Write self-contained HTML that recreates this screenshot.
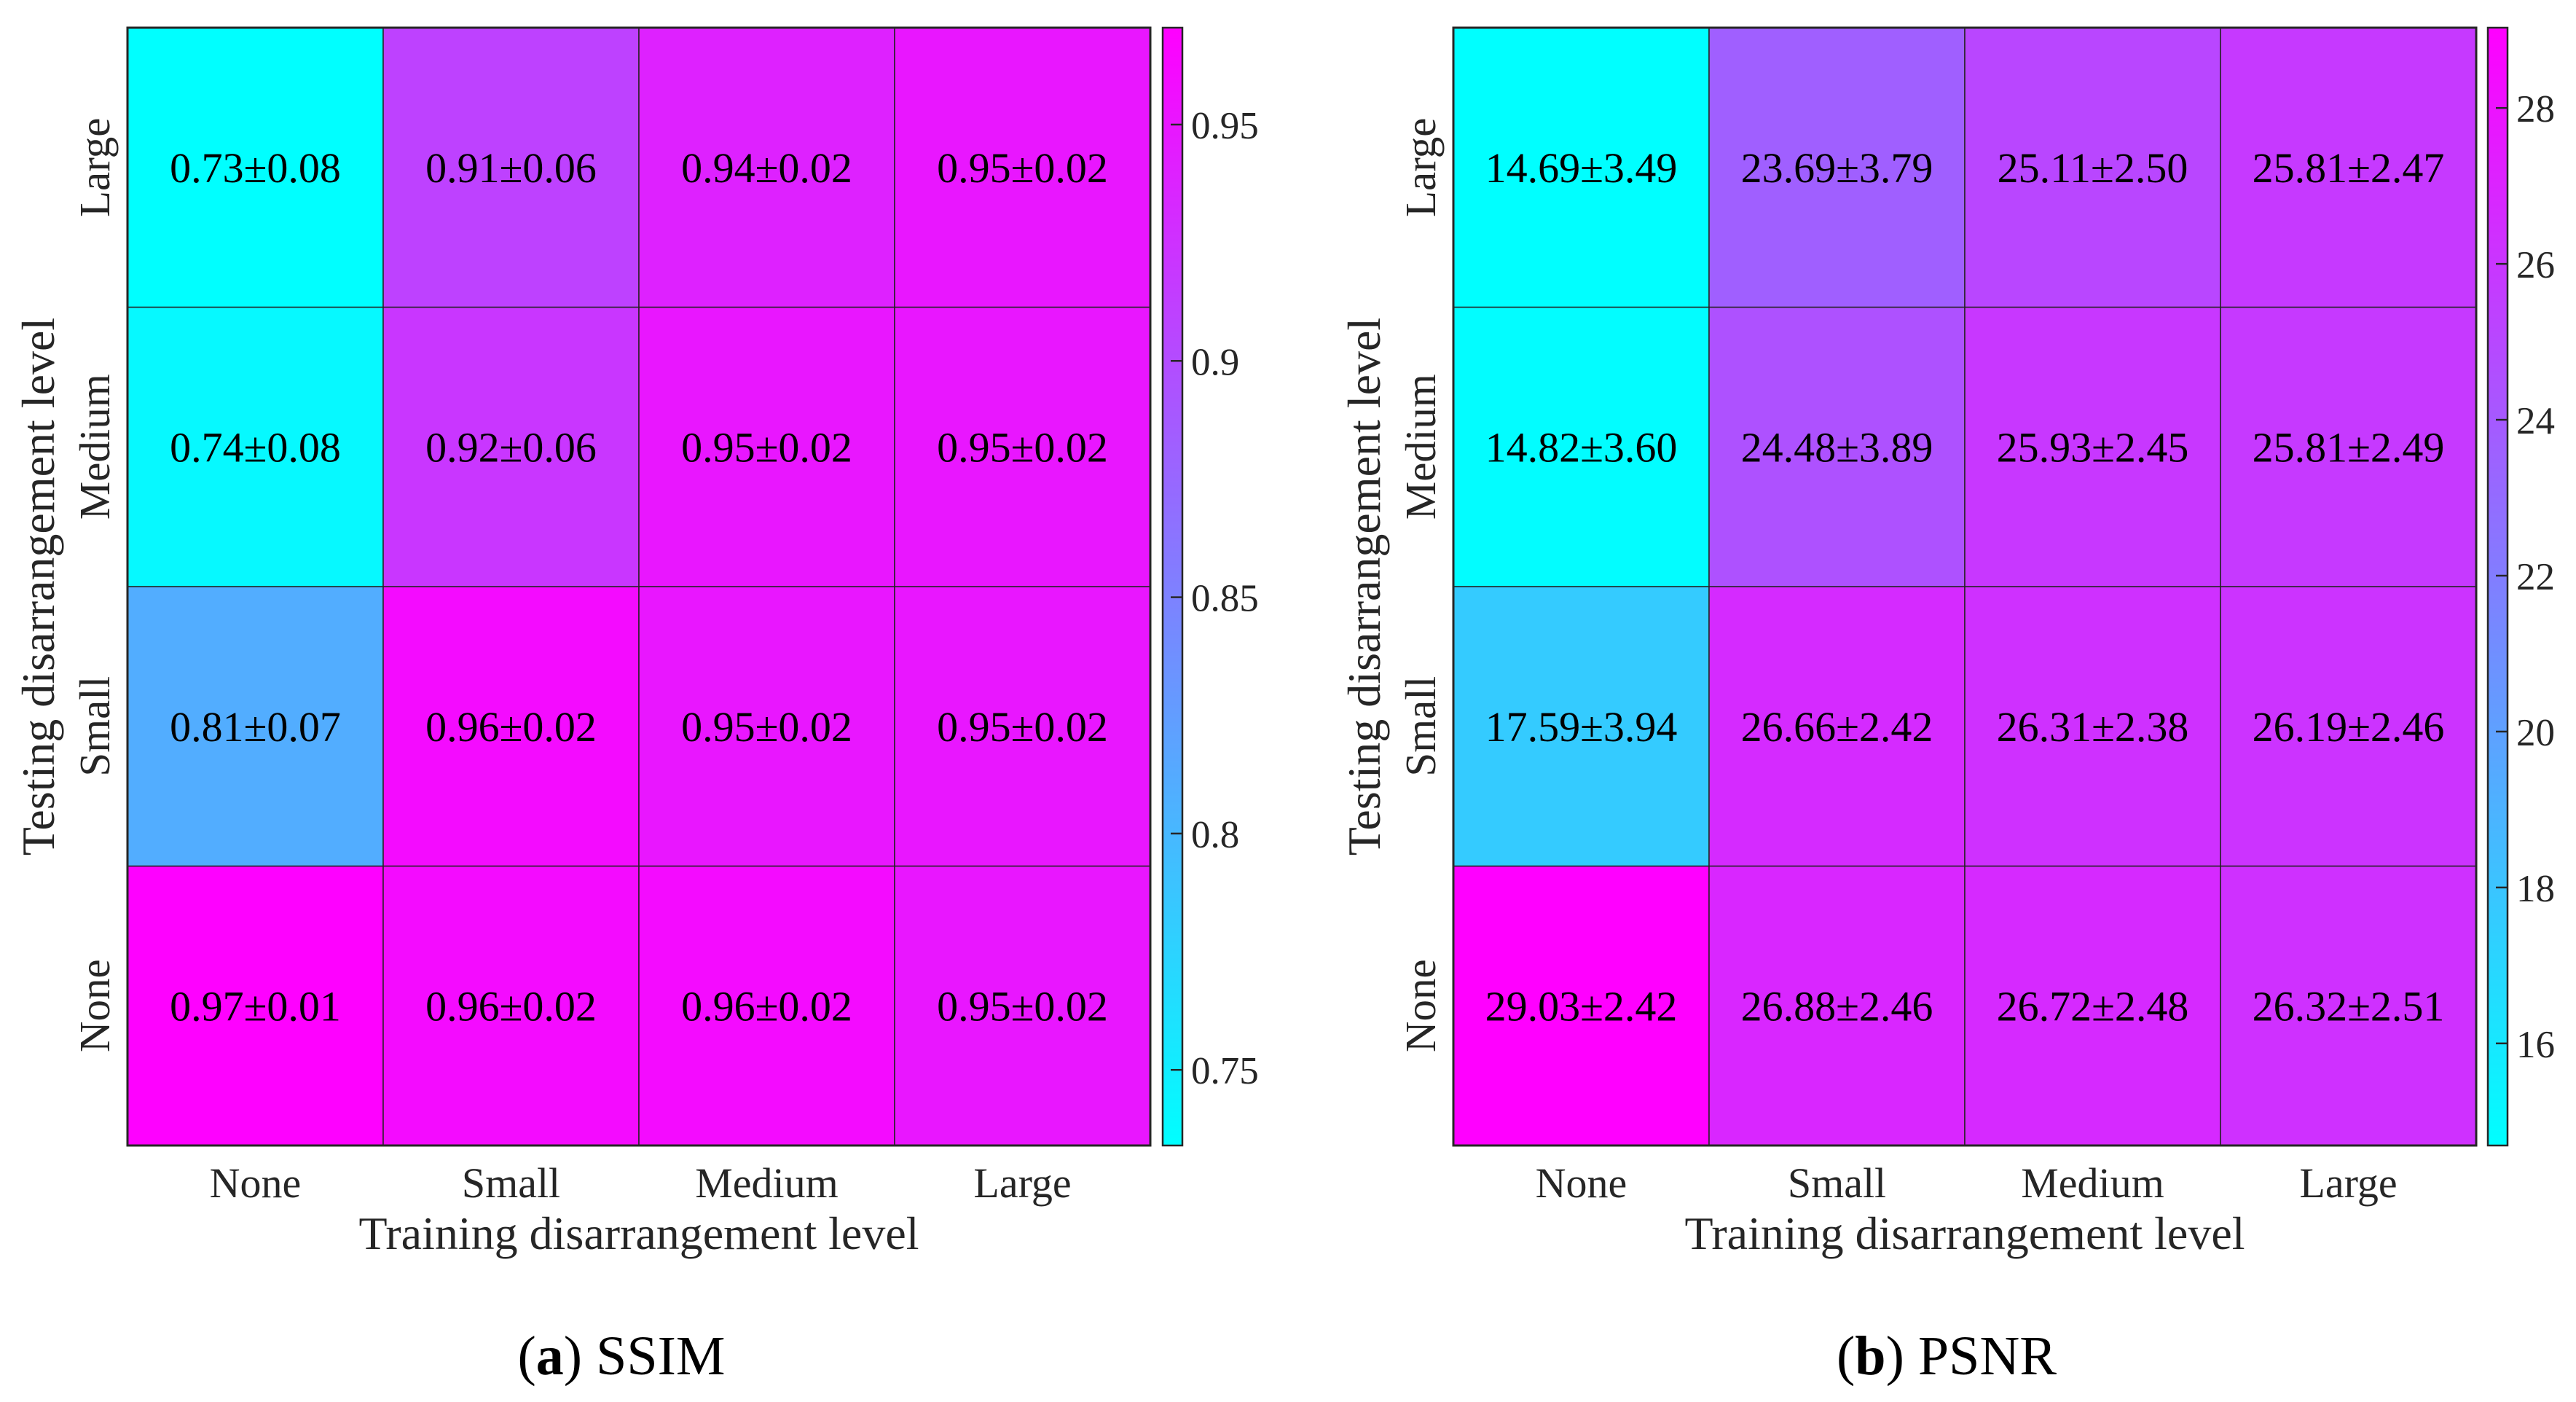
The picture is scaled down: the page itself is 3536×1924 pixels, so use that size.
<!DOCTYPE html>
<html><head><meta charset="utf-8"><style>
html,body{margin:0;padding:0;background:#fff;}
svg{display:block;font-family:"Liberation Serif",serif;}
</style></head><body>
<svg id="fig" width="3536" height="1924" viewBox="0 0 3536 1924" xmlns="http://www.w3.org/2000/svg"></svg>
<script>
// shared categories
const trainLevels = ["None","Small","Medium","Large"];
const testLevels = ["None","Small","Medium","Large"]; // bottom to top
// SSIM means/std, rows = testLevels (None, Small, Medium, Large), cols = trainLevels
const ssimMean = [[0.97,0.96,0.96,0.95],[0.81,0.96,0.95,0.95],[0.74,0.92,0.95,0.95],[0.73,0.91,0.94,0.95]];
const ssimStd  = [[0.01,0.02,0.02,0.02],[0.07,0.02,0.02,0.02],[0.08,0.06,0.02,0.02],[0.08,0.06,0.02,0.02]];
const ssimTicks = [0.75,0.8,0.85,0.9,0.95];
const ssimTickLabels = ["0.75","0.8","0.85","0.9","0.95"];
const ssimRange = [0.734,0.9705];
// PSNR
const psnrMean = [[29.03,26.88,26.72,26.32],[17.59,26.66,26.31,26.19],[14.82,24.48,25.93,25.81],[14.69,23.69,25.11,25.81]];
const psnrStd  = [[2.42,2.46,2.48,2.51],[3.94,2.42,2.38,2.46],[3.60,3.89,2.45,2.49],[3.49,3.79,2.50,2.47]];
const psnrTicks = [16,18,20,22,24,26,28];
const psnrTickLabels = ["16","18","20","22","24","26","28"];
const psnrRange = [14.69,29.03];

const NS="http://www.w3.org/2000/svg";
const svg=document.getElementById('fig');
function mk(tag,attrs,parent,text){const e=document.createElementNS(NS,tag);for(const k in attrs)e.setAttribute(k,attrs[k]);if(text!==undefined)e.textContent=text;(parent||svg).appendChild(e);return e;}
function cool(t){t=Math.max(0,Math.min(1,t));return `rgb(${Math.round(255*t)},${Math.round(255*(1-t))},255)`;}

function panel(o){
  const g=mk('g',{});
  
  
  const L=o.left,R=o.right,T=38,B=1572;
  const cw=(R-L)/4,ch=(B-T)/4;
  const xs=i=>L+i*cw, ys=j=>B-(j+1)*ch;
  const fmt=o.dec;
  for(let j=0;j<4;j++)for(let i=0;i<4;i++){
    const v=o.mean[j][i];
    const r=mk('rect',{x:xs(i),y:ys(j),width:cw,height:ch,fill:cool((v-o.range[0])/(o.range[1]-o.range[0])),stroke:'#222','stroke-width':1.5},g);
    
    
    const t=mk('text',{x:xs(i)+cw/2,y:ys(j)+ch/2+20,'text-anchor':'middle','font-size':58,fill:'#000'},g,v.toFixed(fmt)+'±'+o.std[j][i].toFixed(fmt));
    
    
  }
  const fr=mk('rect',{x:L,y:T,width:R-L,height:B-T,fill:'none',stroke:'#262626','stroke-width':3},g);
  
  
  for(let i=0;i<4;i++){
    const t=mk('text',{x:xs(i)+cw/2,y:1643,'text-anchor':'middle','font-size':58,fill:'#262626'},g,trainLevels[i]);
    
    
  }
  for(let j=0;j<4;j++){
    const cy=ys(j)+ch/2, cx=o.ytx;
    const t=mk('text',{x:cx,y:cy,'text-anchor':'middle','font-size':59,fill:'#262626',transform:`rotate(-90 ${cx} ${cy})`},g,testLevels[j]);
    
    
  }
  const xt=mk('text',{x:(L+R)/2,y:1714,'text-anchor':'middle','font-size':64,fill:'#262626'},g,'Training disarrangement level');
  
  
  const ycx=o.ytitle, ycy=(T+B)/2;
  const yt=mk('text',{x:ycx,y:ycy,'text-anchor':'middle','font-size':64,fill:'#262626',transform:`rotate(-90 ${ycx} ${ycy})`},g,'Testing disarrangement level');
  
  
  // colorbar
  const cbL=o.cbx,cbW=27;
  const gid='grad'+o.name;
  const defs=mk('defs',{},g);
  const lg=mk('linearGradient',{id:gid,x1:0,y1:1,x2:0,y2:0},defs);
  mk('stop',{offset:0,'stop-color':cool(0)},lg);mk('stop',{offset:1,'stop-color':cool(1)},lg);
  const cb=mk('rect',{x:cbL,y:T,width:cbW,height:B-T,fill:`url(#${gid})`,stroke:'#262626','stroke-width':2.5},g);
  
  
  const cy=v=>B-(v-o.range[0])/(o.range[1]-o.range[0])*(B-T);
  o.ticks.forEach((v,k)=>{
    const y=cy(v);
    const tl=mk('line',{x1:cbL+cbW-16,x2:cbL+cbW,y1:y,y2:y,stroke:'#262626','stroke-width':2.5},g);
    
    
    const tx=mk('text',{x:cbL+cbW+12,y:y+19,'font-size':53,fill:'#262626'},g,o.tickLabels[k]);
    
    
  });
  const cap=mk('text',{x:o.capx,y:1886,'text-anchor':'middle','font-size':76,fill:'#000'},g);
  
  
  mk('tspan',{},cap,'(');mk('tspan',{'font-weight':'bold'},cap,o.letter);mk('tspan',{},cap,') '+o.title);
}
panel({name:'ssim-panel',left:175,right:1579,mean:ssimMean,std:ssimStd,range:ssimRange,ticks:ssimTicks,tickLabels:ssimTickLabels,dec:2,ytx:150,ytitle:74,cbx:1596,capx:853,letter:'a',title:'SSIM'});
panel({name:'psnr-panel',left:1995,right:3399,mean:psnrMean,std:psnrStd,range:psnrRange,ticks:psnrTicks,tickLabels:psnrTickLabels,dec:2,ytx:1970,ytitle:1894,cbx:3415,capx:2672,letter:'b',title:'PSNR'});
</script>
</body></html>
